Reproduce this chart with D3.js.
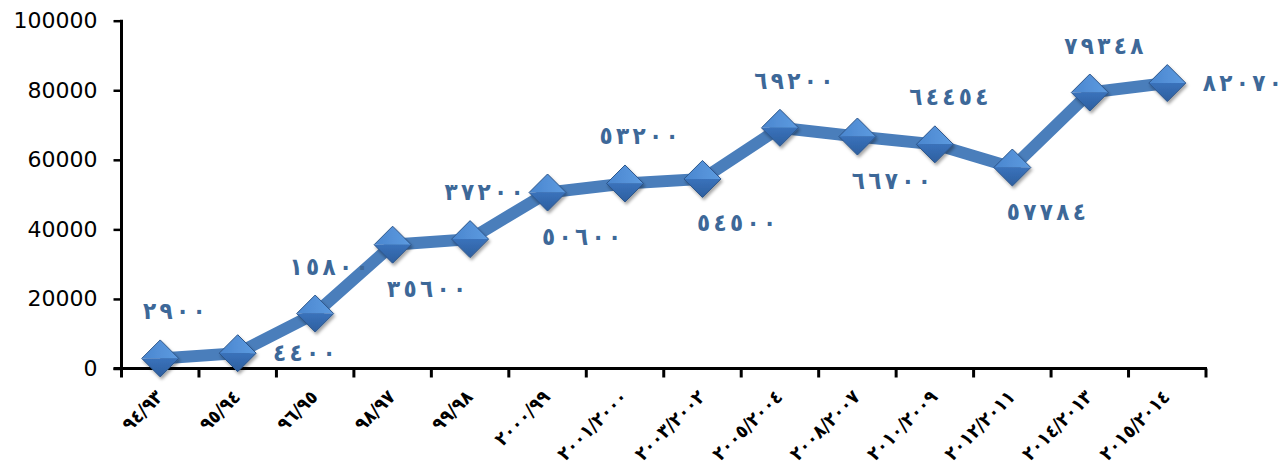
<!DOCTYPE html>
<html><head><meta charset="utf-8">
<script src="https://cdn.jsdelivr.net/npm/d3@7"></script>
<style>
html,body{margin:0;padding:0;background:#fff;}
svg{display:block;}
</style></head>
<body>
<svg id="chart" width="1287" height="468"></svg>
<script>
// ---- data ----
const categories = ["٩٤/٩٣","٩٥/٩٤","٩٦/٩٥","٩٨/٩٧","٩٩/٩٨","٢٠٠٠/٩٩","٢٠٠١/٢٠٠٠","٢٠٠٣/٢٠٠٢","٢٠٠٥/٢٠٠٤","٢٠٠٨/٢٠٠٧","٢٠١٠/٢٠٠٩","٢٠١٢/٢٠١١","٢٠١٤/٢٠١٣","٢٠١٥/٢٠١٤"];
const values = [2900, 4400, 15800, 35600, 37200, 50600, 53200, 54500, 69200, 66700, 64454, 57784, 79348, 82070];
const labelPlacement = ["above","right","above","below","above","below","above","below","above","below","above","below","above","right"];
const yTicks = [0, 20000, 40000, 60000, 80000, 100000];

// ---- layout ----
const svg = d3.select("#chart");
const pLeft = 121.5, pRight = 1206, pTop = 20.7, pBottom = 368.5;
const x = d3.scaleBand().domain(categories).range([pLeft, pRight]).padding(0);
const y = d3.scaleLinear().domain([0, 100000]).range([pBottom, pTop]);
const cx = c => x(c) + x.bandwidth() / 2;
const toArabic = n => String(n).replace(/\d/g, d => "٠١٢٣٤٥٦٧٨٩"[+d]);

const defs = svg.append("defs");
const gTop = defs.append("linearGradient").attr("id","gTop").attr("x1","0").attr("y1","0").attr("x2","1").attr("y2","0");
gTop.append("stop").attr("offset","0").attr("stop-color","#4a86cf");
gTop.append("stop").attr("offset","1").attr("stop-color","#5d9be0");
const gBot = defs.append("linearGradient").attr("id","gBot").attr("x1","0").attr("y1","0").attr("x2","0").attr("y2","1");
gBot.append("stop").attr("offset","0").attr("stop-color","#3a72bb");
gBot.append("stop").attr("offset","1").attr("stop-color","#2d5f9f");
const sh = defs.append("filter").attr("id","shadow").attr("x","-50%").attr("y","-50%").attr("width","200%").attr("height","200%");
sh.append("feDropShadow").attr("dx",1.5).attr("dy",2.5).attr("stdDeviation",1.8).attr("flood-color","#000").attr("flood-opacity",0.35);

// ---- y axis ----
const yAxis = svg.append("g").attr("transform", `translate(${pLeft},0)`)
  .call(d3.axisLeft(y).tickValues(yTicks).tickSize(8).tickPadding(16).tickFormat(d => d));
yAxis.select(".domain").remove();
yAxis.selectAll(".tick line").attr("stroke","#000").attr("stroke-width",2.5);
yAxis.selectAll(".tick text").attr("font-family","'DejaVu Sans', sans-serif").attr("font-size","22px").attr("fill","#000");
svg.append("line").attr("x1",pLeft).attr("x2",pLeft).attr("y1",pTop-1).attr("y2",pBottom+9)
  .attr("stroke","#000").attr("stroke-width",3);

// ---- x axis ----
svg.append("line").attr("x1",pLeft-8).attr("x2",pRight+1).attr("y1",pBottom).attr("y2",pBottom)
  .attr("stroke","#000").attr("stroke-width",3);
const boundaries = categories.map(c => x(c)).concat([pRight]);
svg.append("g").selectAll("line").data(boundaries.slice(1)).join("line")
  .attr("x1",d=>d).attr("x2",d=>d).attr("y1",pBottom).attr("y2",pBottom+9)
  .attr("stroke","#000").attr("stroke-width",3);
svg.append("g").selectAll("text").data(categories).join("text")
  .attr("transform", d => `translate(${cx(d)-1},${pBottom+25}) rotate(-45)`)
  .attr("text-anchor","end")
  .attr("dy","0.35em")
  .attr("font-family","'DejaVu Sans Condensed', 'DejaVu Sans', sans-serif").attr("font-weight","bold")
  .attr("font-size","19px").attr("fill","#000")
  .text(d => d);

// ---- line ----
const pts = categories.map((c,i) => [cx(c), y(values[i])]);
svg.append("path").attr("d", d3.line()(pts)).attr("fill","none")
  .attr("stroke","#4a7ebb").attr("stroke-width",12).attr("stroke-linejoin","miter");

// ---- markers ----
const r = 18.5;
const mk = svg.append("g").selectAll("g").data(pts).join("g")
  .attr("transform", d => `translate(${d[0]},${d[1]})`).attr("filter","url(#shadow)");
mk.append("path").attr("d", `M${-r},0L0,${-r}L${r},0Z`).attr("fill","url(#gTop)");
mk.append("path").attr("d", `M${-r},0L0,${r}L${r},0Z`).attr("fill","url(#gBot)");
mk.append("path").attr("d", `M${-r},0L0,${-r}L${r},0L0,${r}Z`).attr("fill","none").attr("stroke","#2c558a").attr("stroke-width",1);

// ---- data labels (spaced digits, one tspan per digit) ----
const pitch = 16.5;
const lbl = svg.append("g").selectAll("text").data(values).join("text")
  .attr("font-family","'DejaVu Sans Condensed', 'DejaVu Sans', sans-serif").attr("font-weight","bold")
  .attr("font-size","24px").attr("fill","#3d6898")
  .attr("dominant-baseline","central")
  .attr("text-anchor","middle");
lbl.each(function(v, i) {
  const s = toArabic(v), n = s.length, p = pts[i], pl = labelPlacement[i];
  const span = (n - 1) * pitch;
  let x0, yy;
  if (pl === "right") { x0 = p[0] + 42; yy = p[1]; }
  else if (pl === "above") { x0 = p[0] + 14 - span / 2; yy = p[1] - 47; }
  else { x0 = p[0] + 34 - span / 2; yy = p[1] + 44; }
  d3.select(this).selectAll("tspan").data(Array.from(s)).join("tspan")
    .attr("x", (ch, k) => x0 + k * pitch).attr("y", yy).text(ch => ch);
});
</script>
</body></html>
